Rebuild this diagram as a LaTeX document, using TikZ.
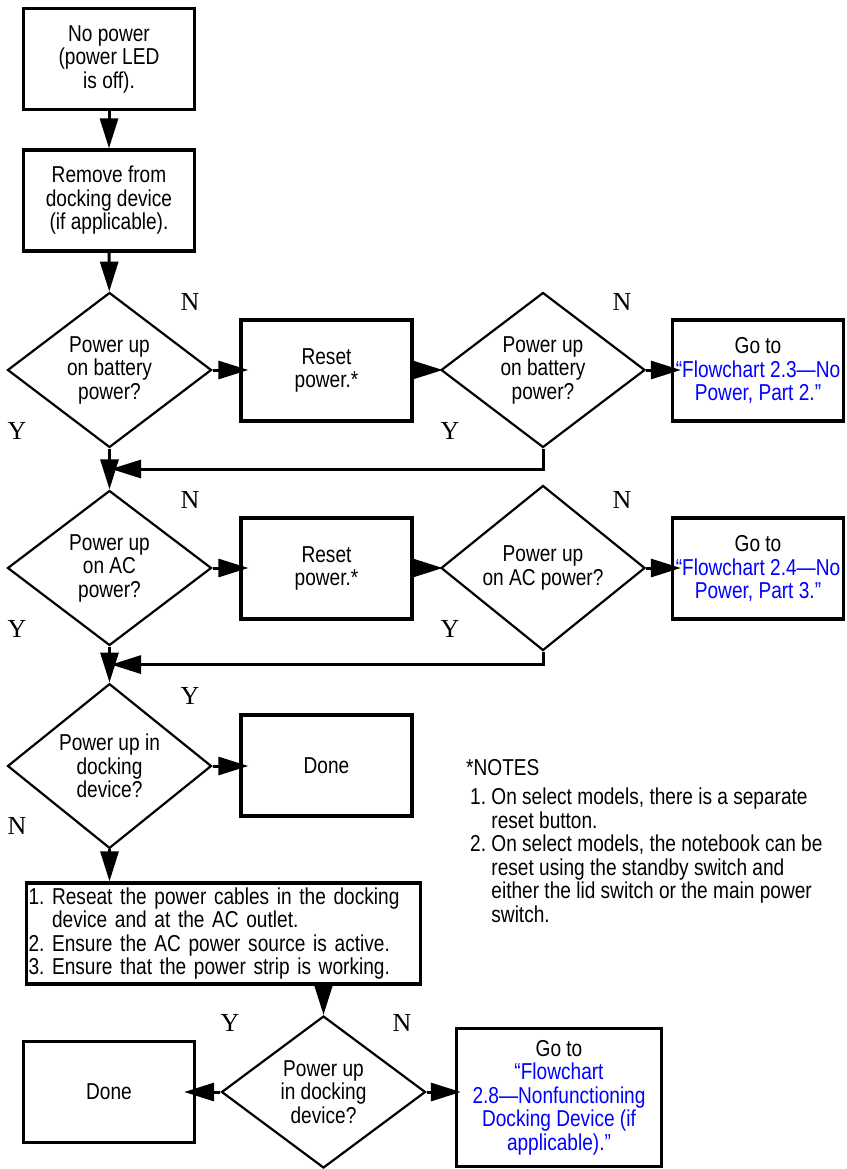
\documentclass[tikz,border=0pt]{standalone}
\usepackage{fontspec}
\setmainfont[FakeStretch=0.83]{Liberation Sans}
\newfontfamily\ynfont{Liberation Serif}
\usetikzlibrary{shapes.geometric,arrows.meta,calc}
\definecolor{linkblue}{RGB}{0,0,255}
\newcommand\myfs{\fontsize{23}{23.5}\selectfont\frenchspacing}
\begin{document}
\begin{tikzpicture}[x=1pt,y=-1pt,
  box/.style={draw, line width=3.3pt, minimum width=171pt, minimum height=101pt, inner sep=2pt, align=center, font=\myfs},
  dia/.style={diamond, draw, line width=2.2pt, minimum width=204pt, minimum height=155pt, inner sep=0pt, align=center, font=\myfs},
  conn/.style={line width=3pt, -{Triangle[length=30pt,width=18pt]}},
  yn/.style={font=\ynfont\fontsize{26}{26}\selectfont, inner sep=0pt}]
\useasboundingbox (0,0) rectangle (846,1169);
\fill[white] (0,0) rectangle (846,1169);

% nodes
\node[box] (b1) at (109,59) {No power\\(power LED\\is off).};
\node[box] (b2) at (109,200.5) {Remove from\\docking device\\(if applicable).};
\node[dia] (d1) at (109.5,370) {Power up\\on battery\\power?};
\node[box] (r1) at (326.5,370.5) {Reset\\power.*};
\node[dia] (d2) at (543,370) {Power up\\on battery\\power?};
\node[box] (g1) at (758,370.5) {Go to\\\color{linkblue}“Flowchart 2.3—No\\\color{linkblue}Power, Part 2.”};

\node[dia] (d3) at (109.5,568) {Power up\\on AC\\power?};
\node[box] (r2) at (326.5,568.5) {Reset\\power.*};
\node[dia] (d4) at (543,568) {Power up\\on AC power?};
\node[box] (g2) at (758,568.5) {Go to\\\color{linkblue}“Flowchart 2.4—No\\\color{linkblue}Power, Part 3.”};

\node[dia] (d5) at (109.5,766) {Power up in\\docking\\device?};
\node[box] (done1) at (326.5,765.5) {Done};

\node[box, minimum width=394pt, text width=390pt, align=left, inner sep=2pt] (big) at (223.5,933.5)
  {1. Reseat the power cables in the docking\\\hphantom{1. }device and at the AC outlet.\\2. Ensure the AC power source is active.\\3. Ensure that the power strip is working.};

\node[dia, minimum height=152pt] (d6) at (323.5,1092) {Power up\\in docking\\device?};
\node[box] (done2) at (109,1092) {Done};
\node[box, minimum width=205pt, minimum height=138pt] (g3) at (559,1097.5)
  {Go to\\\color{linkblue}“Flowchart\\\color{linkblue}2.8—Nonfunctioning\\\color{linkblue}Docking Device (if\\\color{linkblue}applicable).”};

% notes
\node[anchor=base west, font=\myfs, inner sep=0pt] (nt) at (466,775) {*NOTES};
\node[anchor=north west, font=\myfs, align=left, inner sep=0pt] (nl) at (470,788)
  {1. On select models, there is a separate\\\hphantom{1. }reset button.\\2. On select models, the notebook can be\\\hphantom{2. }reset using the standby switch and\\\hphantom{2. }either the lid switch or the main power\\\hphantom{2. }switch.};

% merge points
\coordinate (m1) at ($(d1.south)!0.5!(d3.north)$);
\coordinate (m2) at ($(d3.south)!0.5!(d5.north)$);

% connectors
\draw[conn] (b1) -- (b2);
\draw[conn] (b2) -- (d1);
\draw[conn, shorten >=-9pt] (d1.east) -- (d1.east -| r1.west);
\draw[conn, shorten >=-3pt] (r1.east |- d2.west) -- (d2.west);
\draw[conn, shorten >=-10pt] (d2.east) -- (d2.east -| g1.west);
\draw[conn] (d1) -- (d3);
\draw[conn] (d2.south) |- ([xshift=1.5pt]m1);

\draw[conn, shorten >=-9pt] (d3.east) -- (d3.east -| r2.west);
\draw[conn, shorten >=-3pt] (r2.east |- d4.west) -- (d4.west);
\draw[conn, shorten >=-10pt] (d4.east) -- (d4.east -| g2.west);
\draw[conn] (d3) -- (d5);
\draw[conn] (d4.south) |- ([xshift=1.5pt]m2);

\draw[conn, shorten >=-9pt] (d5.east) -- (d5.east -| done1.west);
\draw[conn] (d5.south) -- (d5.south |- big.north);
\draw[conn] (big.south -| d6.north) -- (d6.north);
\draw[conn, shorten >=-12pt] (d6.west) -- (d6.west -| done2.east);
\draw[conn, shorten >=-6pt] (d6.east) -- (d6.east -| g3.west);

% Y/N labels
\node[yn] (n1) at (190,302) {N};
\node[yn] (y1) at (17,431) {Y};
\node[yn] (n2) at (622,302) {N};
\node[yn] (y2) at (450,431) {Y};
\node[yn] (n3) at (190,500) {N};
\node[yn] (y3) at (17,629) {Y};
\node[yn] (n4) at (622,500) {N};
\node[yn] (y4) at (450,629) {Y};
\node[yn] (y5) at (190,696) {Y};
\node[yn] (n5) at (17,826) {N};
\node[yn] (y6) at (230,1023) {Y};
\node[yn] (n6) at (402,1023) {N};
\end{tikzpicture}
\end{document}
